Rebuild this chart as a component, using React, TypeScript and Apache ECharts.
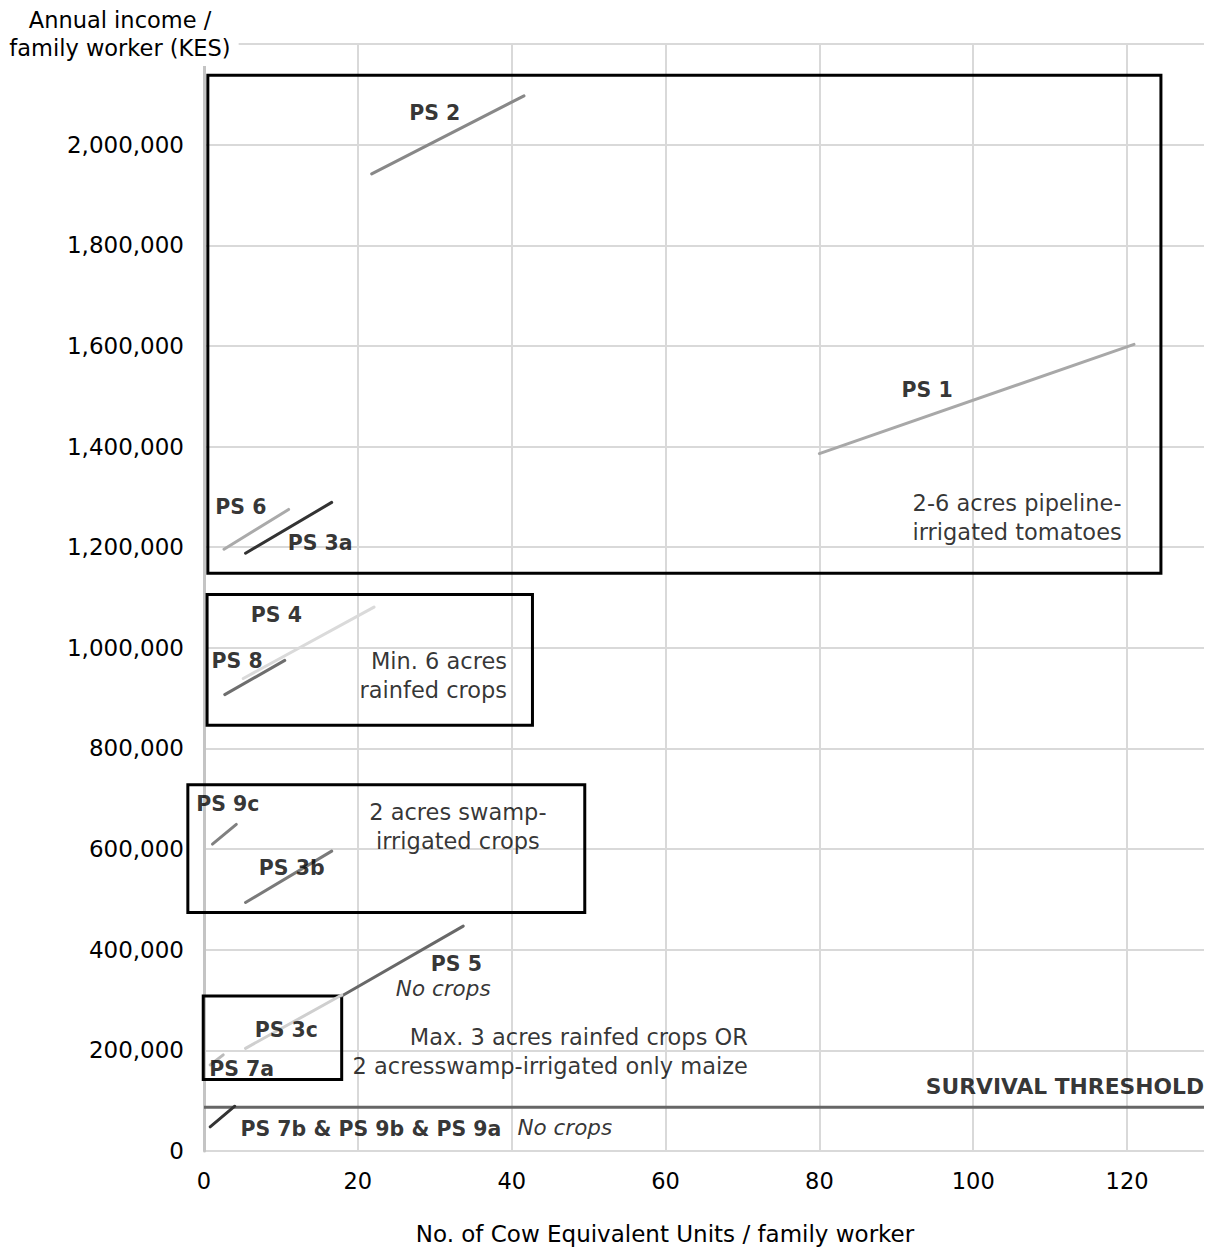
import React, { useEffect, useRef } from "react";
import * as echarts from "echarts";

// ---- data ----
const xTickMax = 130;
const yTickMax = 2200000;

const lineNames = ["PS 1", "PS 2", "PS 6", "PS 3a", "PS 8", "PS 4", "PS 9c", "PS 3b", "PS 5", "PS 3c", "PS 7a", "PS 7b & PS 9b & PS 9a"];
const lineX0 = [80.0, 21.8, 2.6, 5.4, 2.7, 5.1, 1.1, 5.4, 17.9, 5.4, 0.8, 0.8];
const lineY0 = [1386000, 1942000, 1196000, 1188000, 907000, 939000, 610000, 494000, 308000, 204000, 171000, 48000];
const lineX1 = [120.9, 41.6, 11.0, 16.6, 10.5, 22.1, 4.2, 16.6, 33.7, 17.9, 2.5, 4.0];
const lineY1 = [1603000, 2097000, 1275000, 1289000, 975000, 1081000, 649000, 596000, 447000, 310000, 191000, 89000];

const survivalThreshold = 87000;

const boxNames = ["pipeline", "rainfed", "swamp", "max3"];
const boxX0 = [0.5, 0.4, -2.1, -0.1];
const boxX1 = [124.4, 42.7, 49.5, 17.9];
const boxY0 = [1148000, 846000, 474000, 142000];
const boxY1 = [2138000, 1106000, 728000, 308000];

// annotation texts with anchor values
const boldLabels = ["PS 2", "PS 1", "PS 6", "PS 3a", "PS 4", "PS 8", "PS 9c", "PS 3b", "PS 5", "PS 3c", "PS 7a", "PS 7b & PS 9b & PS 9a"];
const boldLabelX = [30.0, 94.0, 4.8, 15.1, 9.4, 4.3, 3.1, 11.4, 32.8, 10.7, 4.9, 21.7];
const boldLabelY = [2062000, 1512000, 1280000, 1208000, 1065000, 974000, 690000, 562000, 372000, 240000, 163000, 44000];

const italicLabels = ["No crops", "No crops"];
const italicLabelX = [31.1, 46.9];
const italicLabelY = [322000, 46000];

const boxTexts = [
  "2-6 acres pipeline-\nirrigated tomatoes",
  "Min. 6 acres\nrainfed crops",
  "2 acres swamp-\nirrigated crops",
  "Max. 3 acres rainfed crops OR\n2 acresswamp-irrigated only maize",
];
const boxTextX = [105.7, 39.4, 33.0, 70.7];
const boxTextY = [1258000, 944000, 644000, 197000];
const boxTextAlign = ["center", "right", "center", "right"];

const thresholdLabel = "SURVIVAL THRESHOLD";
const thresholdLabelY = 129000;

// ---- styles ----
const lineColors = ["#a8a8a8", "#888888", "#aaaaaa", "#333333", "#6e6e6e", "#dadada", "#808080", "#7a7a7a", "#686868", "#cfcfcf", "#bbbbbb", "#333333"];
const FONT = "DejaVu Sans";

export default function App() {
  const ref = useRef<HTMLDivElement>(null);
  useEffect(() => {
    if (!ref.current) return;
    const chart = echarts.init(ref.current, undefined, { renderer: "svg" });

    const series: any[] = [];

    series.push({
      type: "custom",
      name: "boxes",
      silent: true,
      clip: false,
      z: 3,
      encode: { x: [0, 2], y: [1, 3] },
      data: boxNames.map((_, i) => [boxX0[i], boxY0[i], boxX1[i], boxY1[i]]),
      renderItem: (params: any, api: any) => {
        const pA = api.coord([0, 0]);
        const pB = api.coord([100, 1000000]);
        const ux = (pB[0] - pA[0]) / 100;
        const uy = (pA[1] - pB[1]) / 1000000;
        const l = pA[0] + api.value(0) * ux;
        const r = pA[0] + api.value(2) * ux;
        const b = pA[1] - api.value(1) * uy;
        const t = pA[1] - api.value(3) * uy;
        return {
          type: "rect",
          shape: { x: l, y: t, width: r - l, height: b - t },
          style: { fill: "none", stroke: "#000", lineWidth: 3 },
        };
      },
    });

    series.push({
      type: "line",
      name: "threshold",
      silent: true,
      symbol: "none",
      lineStyle: { color: "#666", width: 3 },
      z: 3,
      data: [
        [0, survivalThreshold],
        [xTickMax, survivalThreshold],
      ],
    });

    lineNames.forEach((n, i) => {
      series.push({
        type: "line",
        name: n,
        silent: true,
        clip: false,
        symbol: "none",
        lineStyle: { color: lineColors[i], width: 3, cap: "round" },
        z: 4,
        data: [
          [lineX0[i], lineY0[i]],
          [lineX1[i], lineY1[i]],
        ],
      });
    });

    const labelSeries = (data: any[], z = 6) => ({
      type: "scatter",
      silent: true,
      clip: false,
      symbolSize: 0,
      itemStyle: { color: "#000" },
      z,
      data,
    });

    const baseLabel = {
      show: true,
      position: "inside",
      fontFamily: FONT,
      color: "#000",
      textBorderWidth: 0,
      textBorderColor: "transparent",
    };

    series.push(
      labelSeries(
        boldLabels.map((t, i) => ({
          value: [boldLabelX[i], boldLabelY[i]],
          label: { ...baseLabel, formatter: t, fontWeight: "bold", fontSize: 20.5 },
        }))
      )
    );
    series.push(
      labelSeries(
        italicLabels.map((t, i) => ({
          value: [italicLabelX[i], italicLabelY[i]],
          label: { ...baseLabel, formatter: t, fontStyle: "italic", fontSize: 21.5 },
        }))
      )
    );
    series.push(
      labelSeries(
        boxTexts.map((t, i) => ({
          value: [boxTextX[i], boxTextY[i]],
          label: { ...baseLabel, formatter: t, align: boxTextAlign[i], fontSize: 22.5, lineHeight: 29 },
        }))
      )
    );
    series.push(
      labelSeries([
        {
          value: [xTickMax, thresholdLabelY],
          label: { ...baseLabel, formatter: thresholdLabel, align: "right", fontWeight: "bold", fontSize: 21.8 },
        },
      ])
    );

    chart.setOption({
      animation: false,
      backgroundColor: "#fff",
      grid: { left: 204, right: 9, top: 44, bottom: 96, containLabel: false },
      xAxis: {
        type: "value",
        min: 0,
        max: xTickMax,
        interval: 20,
        axisLine: { show: false },
        axisTick: { show: false },
        axisLabel: {
          showMaxLabel: false,
          fontFamily: FONT,
          fontSize: 22.5,
          color: "#000",
          margin: 18,
        },
        splitLine: { show: true, showMaxLine: false, lineStyle: { color: "#d9d9d9", width: 2 } },
      },
      yAxis: {
        type: "value",
        min: 0,
        max: yTickMax,
        interval: 200000,
        axisLine: { show: true, lineStyle: { color: "#c4c4c4", width: 3 } },
        axisTick: { show: false },
        axisLabel: {
          showMaxLabel: false,
          fontFamily: FONT,
          fontSize: 23,
          color: "#000",
          margin: 20,
          formatter: (v: number) => v.toLocaleString("en-US"),
        },
        splitLine: { show: true, lineStyle: { color: "#d9d9d9", width: 2 } },
      },
      graphic: [
        {
          type: "text",
          x: 120,
          y: 6,
          z: 100,
          style: {
            text: "Annual income /\nfamily worker (KES)",
            fontFamily: FONT,
            fontSize: 22.5,
            lineHeight: 28,
            fill: "#000",
            align: "center",
            verticalAlign: "top",
            backgroundColor: "#fff",
            padding: [0, 8, 4, 8],
          },
        },
        {
          type: "text",
          x: 665,
          y: 1234,
          style: {
            text: "No. of Cow Equivalent Units / family worker",
            fontFamily: FONT,
            fontSize: 23,
            fill: "#000",
            align: "center",
            verticalAlign: "middle",
          },
        },
      ],
      series,
    });

    return () => chart.dispose();
  }, []);

  return (
    <div
      ref={ref}
      style={{ position: "absolute", left: 0, top: 0, width: 1213, height: 1247 }}
    />
  );
}
